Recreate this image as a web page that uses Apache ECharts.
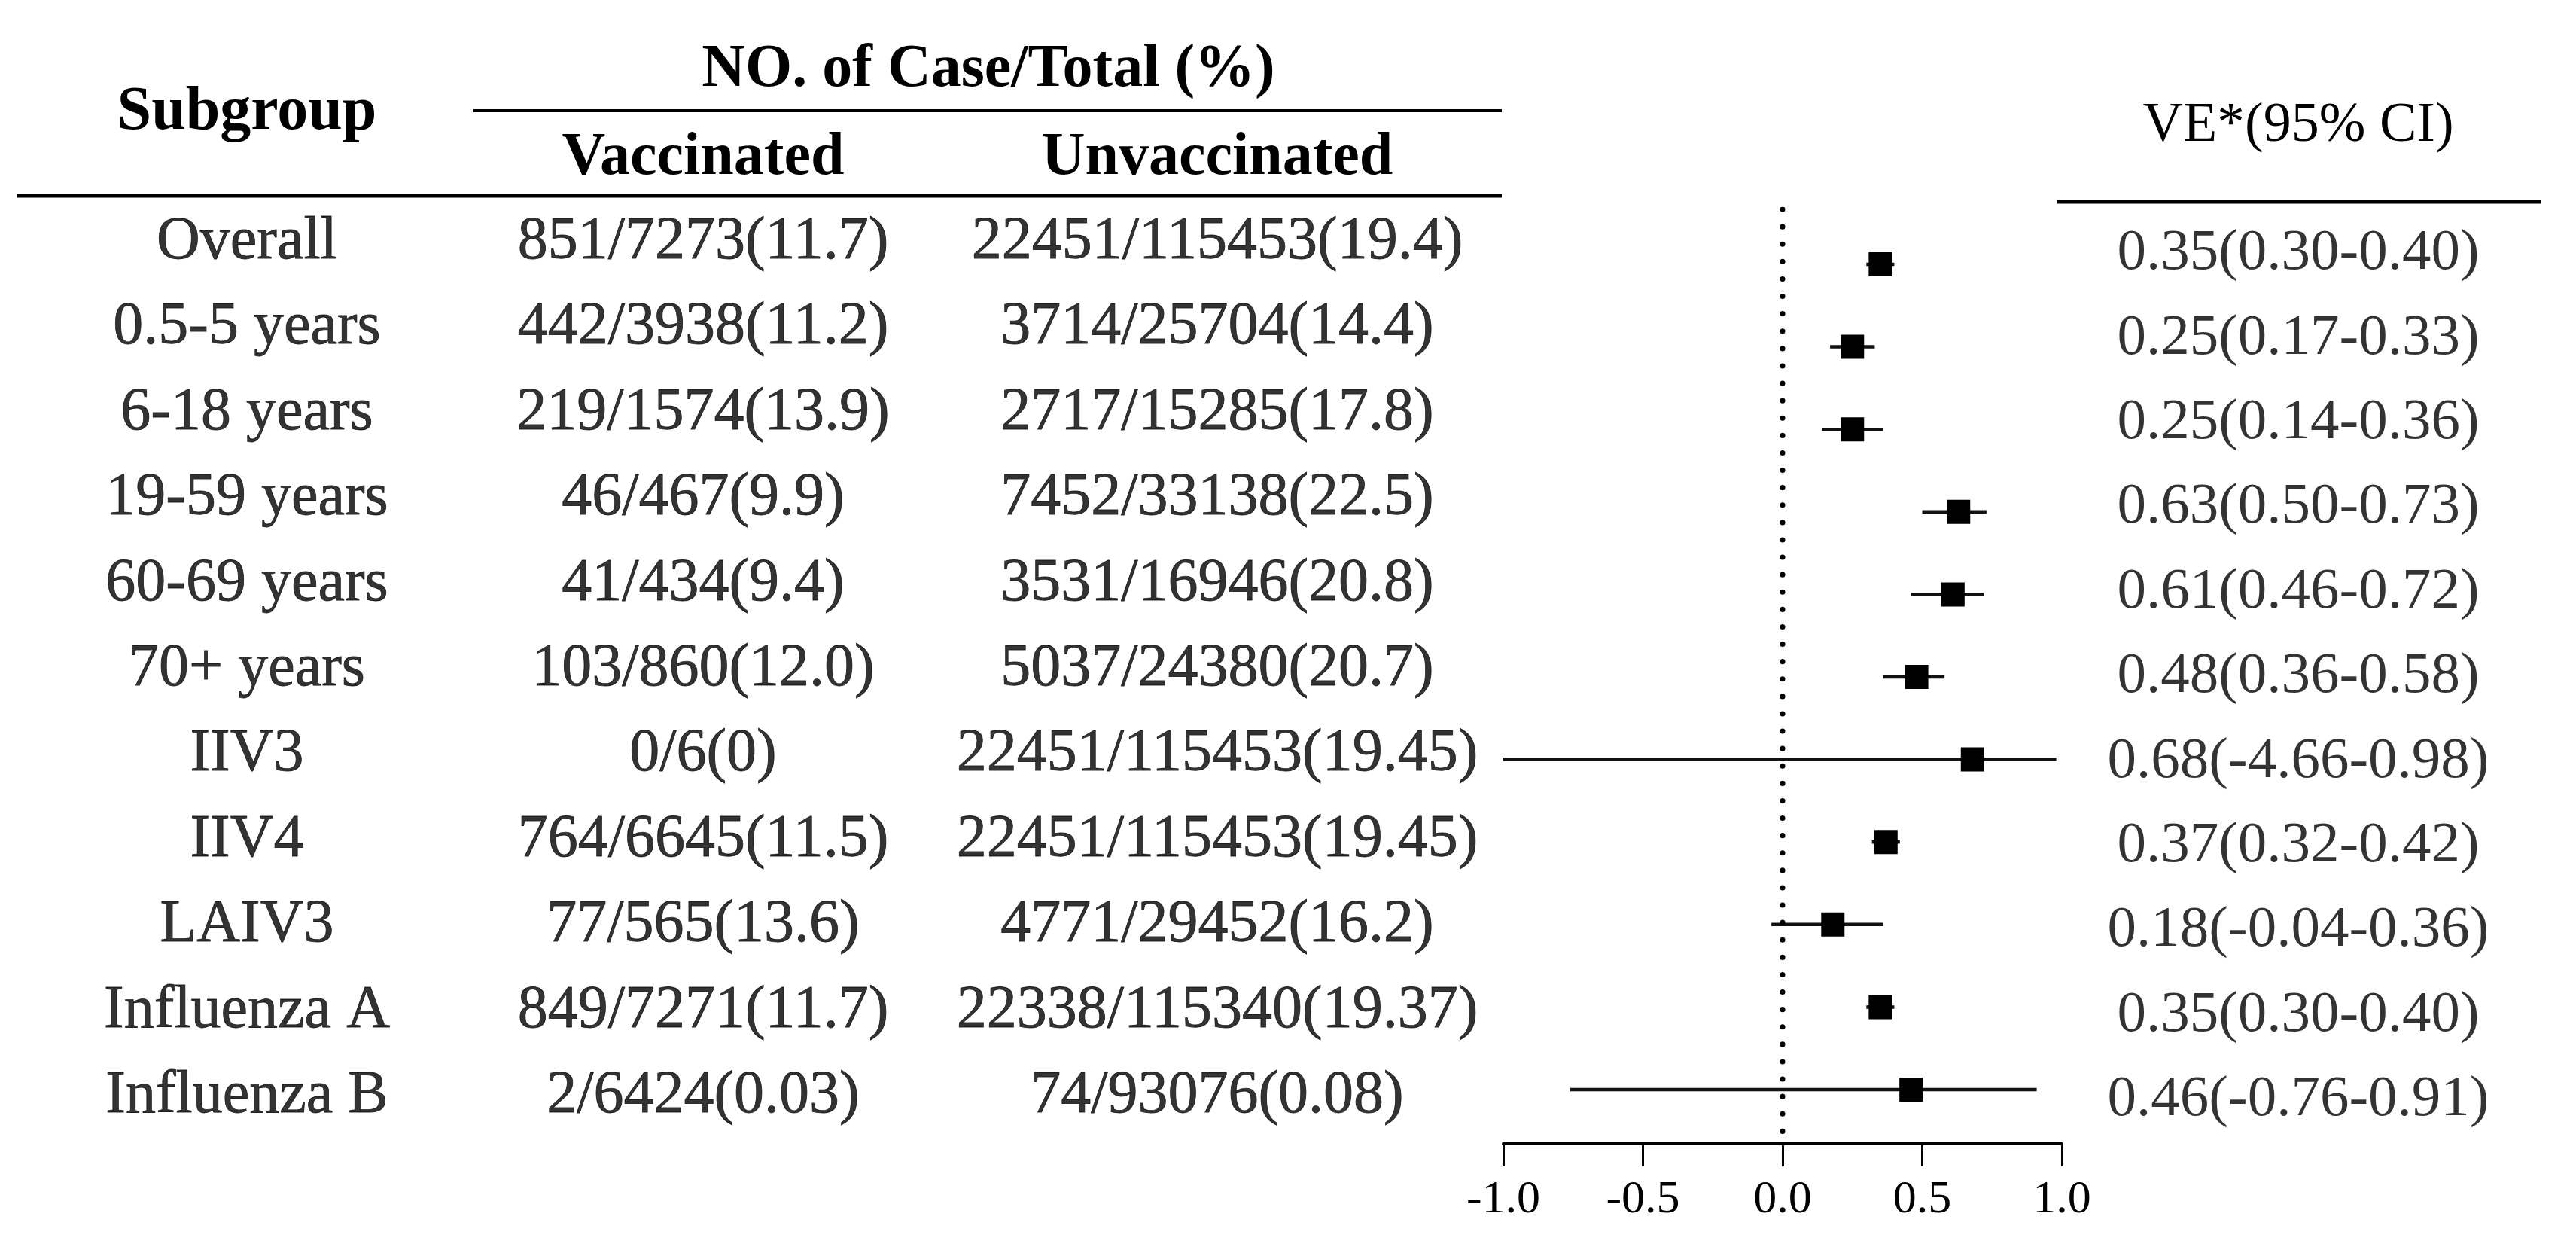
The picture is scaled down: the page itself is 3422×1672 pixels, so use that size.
<!DOCTYPE html>
<html>
<head>
<meta charset="utf-8">
<script src="https://cdn.jsdelivr.net/npm/echarts@6/dist/echarts.min.js"></script>
<style>
  html, body { margin: 0; padding: 0; background: #ffffff; }
  #chart { width: 3422px; height: 1672px; }
</style>
</head>
<body>
<div id="chart"></div>
<script>
// ---------------- data ----------------
const subgroups = ['Overall', '0.5-5 years', '6-18 years', '19-59 years', '60-69 years', '70+ years',
  'IIV3', 'IIV4', 'LAIV3', 'Influenza A', 'Influenza B'];
const vacCases  = [851, 442, 219, 46, 41, 103, 0, 764, 77, 849, 2];
const vacTotal  = [7273, 3938, 1574, 467, 434, 860, 6, 6645, 565, 7271, 6424];
const vacPct    = ['11.7', '11.2', '13.9', '9.9', '9.4', '12.0', '0', '11.5', '13.6', '11.7', '0.03'];
const unvCases  = [22451, 3714, 2717, 7452, 3531, 5037, 22451, 22451, 4771, 22338, 74];
const unvTotal  = [115453, 25704, 15285, 33138, 16946, 24380, 115453, 115453, 29452, 115340, 93076];
const unvPct    = ['19.4', '14.4', '17.8', '22.5', '20.8', '20.7', '19.45', '19.45', '16.2', '19.37', '0.08'];
const ve        = [0.35, 0.25, 0.25, 0.63, 0.61, 0.48, 0.68, 0.37, 0.18, 0.35, 0.46];
const ciLow     = [0.30, 0.17, 0.14, 0.50, 0.46, 0.36, -4.66, 0.32, -0.04, 0.30, -0.76];
const ciHigh    = [0.40, 0.33, 0.36, 0.73, 0.72, 0.58, 0.98, 0.42, 0.36, 0.40, 0.91];
const xTicks    = [-1.0, -0.5, 0.0, 0.5, 1.0];
const refLine   = 0;

const headerSubgroup = 'Subgroup';
const headerGroup = 'NO. of Case/Total (%)';
const headerVac = 'Vaccinated';
const headerUnv = 'Unvaccinated';
const headerVE = 'VE*(95% CI)';

// ---------------- layout (positions / styles only) ----------------
const W = 3422, H = 1672;
const L = {
  colSub: 328, colVac: 934, colUnv: 1617, colVE: 3053,
  tableTop: 322, tableBottomRow: 1456,
  veTop: 337, veBottomRow: 1461,
  plotLeft: 1997, plotRight: 2739, plotTop: 278, axisY: 1519,
  firstMarkerY: 351, rowStep: 109.6
};
const serif = '"Liberation Serif", "Times New Roman", serif';
const nRows = subgroups.length;
const yMinF = (L.plotTop - L.firstMarkerY) / L.rowStep;
const yMaxF = (L.axisY - L.firstMarkerY) / L.rowStep;

const fmt2 = v => v.toFixed(2);
const vacText = subgroups.map((_, i) => vacCases[i] + '/' + vacTotal[i] + '(' + vacPct[i] + ')');
const unvText = subgroups.map((_, i) => unvCases[i] + '/' + unvTotal[i] + '(' + unvPct[i] + ')');
const veText  = subgroups.map((_, i) => fmt2(ve[i]) + '(' + fmt2(ciLow[i]) + '-' + fmt2(ciHigh[i]) + ')');

function textSeries(name, gridIdx, colX, texts, fontSize, border) {
  return {
    name: name, type: 'scatter', xAxisIndex: gridIdx, yAxisIndex: gridIdx,
    symbolSize: 1, itemStyle: { color: 'rgba(0,0,0,0)' }, silent: true,
    data: texts.map((t, i) => [colX, i, t]),
    label: {
      show: true, position: 'inside', align: 'center', verticalAlign: 'middle',
      formatter: p => p.value[2], color: '#000', fontFamily: serif, fontSize: fontSize,
      textBorderColor: '#000', textBorderWidth: border
    }
  };
}

const chart = echarts.init(document.getElementById('chart'), null, { renderer: 'canvas', width: W, height: H });

const hdr = (x, y, text, font) => ({
  type: 'text', x: x, y: y,
  style: { text: text, fill: '#000', font: font, textAlign: 'center', textVerticalAlign: 'middle' }
});

const option = {
  backgroundColor: '#ffffff',
  animation: false,
  grid: [
    { left: 0, right: 0, top: L.tableTop, bottom: H - L.tableBottomRow },
    { left: 0, right: 0, top: L.veTop, bottom: H - L.veBottomRow },
    { left: L.plotLeft, right: W - L.plotRight, top: L.plotTop, bottom: H - L.axisY }
  ],
  xAxis: [
    { gridIndex: 0, type: 'value', min: 0, max: W, show: false },
    { gridIndex: 1, type: 'value', min: 0, max: W, show: false },
    {
      gridIndex: 2, type: 'value', min: xTicks[0], max: xTicks[xTicks.length - 1], interval: 0.5,
      position: 'bottom',
      axisLine: { show: true, onZero: false, lineStyle: { color: '#000', width: 4 } },
      axisTick: { show: true, length: 30, lineStyle: { color: '#000', width: 3 } },
      axisLabel: { color: '#000', fontFamily: serif, fontSize: 62, margin: 44,
        formatter: v => v.toFixed(1) },
      splitLine: { show: false }
    }
  ],
  yAxis: [
    { gridIndex: 0, type: 'value', min: 0, max: nRows - 1, inverse: true, show: false },
    { gridIndex: 1, type: 'value', min: 0, max: nRows - 1, inverse: true, show: false },
    { gridIndex: 2, type: 'value', min: yMinF, max: yMaxF, inverse: true, show: false }
  ],
  graphic: [
    { type: 'line', shape: { x1: 629, y1: 147, x2: 1995, y2: 147 }, style: { stroke: '#000', lineWidth: 4 } },
    { type: 'line', shape: { x1: 22, y1: 260, x2: 1995, y2: 260 }, style: { stroke: '#000', lineWidth: 5 } },
    { type: 'line', shape: { x1: 2732, y1: 268, x2: 3376, y2: 268 }, style: { stroke: '#000', lineWidth: 5 } },
    hdr(L.colSub, 150, headerSubgroup, 'bold 82px ' + serif),
    hdr(1313, 93, headerGroup, 'bold 80px ' + serif),
    hdr(L.colVac, 210, headerVac, 'bold 80px ' + serif),
    hdr(L.colUnv, 210, headerUnv, 'bold 80px ' + serif),
    hdr(L.colVE, 168, headerVE, '74px ' + serif)
  ],
  series: [
    textSeries('subgroup', 0, L.colSub, subgroups, 80, 0.8),
    textSeries('vaccinated', 0, L.colVac, vacText, 80, 0.8),
    textSeries('unvaccinated', 0, L.colUnv, unvText, 80, 0.8),
    textSeries('ve', 1, L.colVE, veText, 77, 0),
    {
      name: 'ref', type: 'line', xAxisIndex: 2, yAxisIndex: 2, symbol: 'none', silent: true,
      data: [[refLine, yMinF], [refLine, yMaxF]],
      lineStyle: { color: '#000', width: 7, type: [0.1, 23], cap: 'round' }
    },
    {
      name: 'ci', type: 'custom', xAxisIndex: 2, yAxisIndex: 2, silent: true,
      data: subgroups.map((_, i) => [i, ciLow[i], ciHigh[i]]),
      encode: { x: [1, 2], y: 0 },
      renderItem: function (params, api) {
        const i = api.value(0);
        const lo = Math.max(api.value(1), xTicks[0]);
        const hi = Math.min(api.value(2), xTicks[xTicks.length - 1]);
        const p1 = api.coord([lo, i]);
        const p2 = api.coord([hi, i]);
        return { type: 'line', shape: { x1: p1[0], y1: p1[1], x2: p2[0], y2: p2[1] },
          style: { stroke: '#111', lineWidth: 4.5 } };
      }
    },
    {
      name: 'VE', type: 'scatter', xAxisIndex: 2, yAxisIndex: 2, silent: true,
      symbol: 'rect', symbolSize: [31, 32], itemStyle: { color: '#000', opacity: 1 },
      data: subgroups.map((_, i) => [ve[i], i])
    }
  ]
};
chart.setOption(option);
</script>
</body>
</html>
